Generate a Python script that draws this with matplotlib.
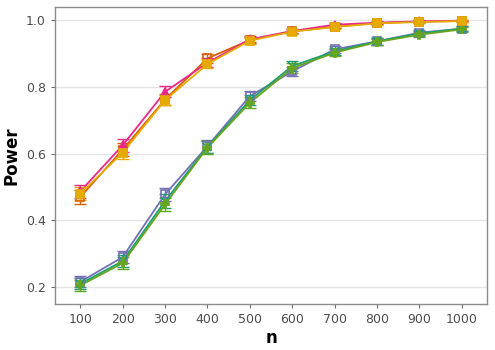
import numpy as np
import matplotlib
matplotlib.use("Agg")
import matplotlib.pyplot as plt

# sample sizes on the x axis (discrete)
n_labels = ["100", "200", "300", "400", "500", "600", "700", "800", "900", "1000"]

# power estimates
pow_pink = [0.487, 0.625, 0.785, 0.872, 0.942, 0.967, 0.986, 0.992, 0.996, 0.998]
pow_orange = [0.470, 0.612, 0.762, 0.885, 0.940, 0.966, 0.980, 0.991, 0.995, 0.997]
pow_gold = [0.480, 0.603, 0.760, 0.868, 0.938, 0.965, 0.979, 0.990, 0.994, 0.997]
pow_purple = [0.216, 0.290, 0.478, 0.622, 0.772, 0.846, 0.912, 0.936, 0.962, 0.974]
pow_teal = [0.210, 0.278, 0.458, 0.620, 0.760, 0.862, 0.906, 0.936, 0.960, 0.974]
pow_green = [0.205, 0.272, 0.448, 0.618, 0.752, 0.856, 0.902, 0.934, 0.956, 0.972]

# error bar half widths
err_upper = [0.020, 0.019, 0.016, 0.013, 0.009, 0.007, 0.005, 0.004, 0.003, 0.002]
err_lower = [0.016, 0.018, 0.020, 0.019, 0.016, 0.014, 0.011, 0.010, 0.008, 0.007]

# (values, errors, colour, marker, filled)
series = [
    (pow_purple, err_lower, "#7570B3", "s", False),
    (pow_teal, err_lower, "#1B9E77", "x", False),
    (pow_green, err_lower, "#66A61E", "P", True),
    (pow_orange, err_upper, "#D95F02", "s", False),
    (pow_pink, err_upper, "#E7298A", "^", True),
    (pow_gold, err_upper, "#E6AB02", "s", True),
]

fig = plt.figure(figsize=(4.95, 3.5), dpi=100)
ax = fig.add_axes([0.111, 0.131, 0.873, 0.849])

x = np.arange(1, len(n_labels) + 1)
for vals, err, col, mk, filled in series:
    ax.plot(x, vals, color=col, lw=1.3, zorder=3)
    ax.errorbar(x, vals, yerr=err, fmt="none", ecolor=col, elinewidth=1.0,
                capsize=4, capthick=1.0, zorder=3)
    ax.plot(x, vals, linestyle="none", marker=mk, color=col, ms=6,
            markeredgewidth=1.2, zorder=4,
            markerfacecolor=col if filled else "none")

ax.set_xlim(0.4, 10.6)
ax.set_ylim(0.149, 1.039)
ax.set_xticks(x)
ax.set_xticklabels(n_labels)
ax.set_yticks([0.2, 0.4, 0.6, 0.8, 1.0])
ax.set_yticklabels(["0.2", "0.4", "0.6", "0.8", "1.0"])

ax.grid(axis="y", color="#E5E5E5", lw=1.0)
ax.set_axisbelow(True)
for s in ax.spines.values():
    s.set_color("#8C8C8C")
    s.set_linewidth(1.0)
ax.tick_params(colors="#6E6E6E", labelcolor="#4D4D4D", labelsize=9, length=3)

ax.set_xlabel("n", fontsize=12, fontweight="bold", labelpad=2)
ax.set_ylabel("Power", fontsize=12, fontweight="bold", labelpad=4)

fig.savefig("out.png", dpi=100)
